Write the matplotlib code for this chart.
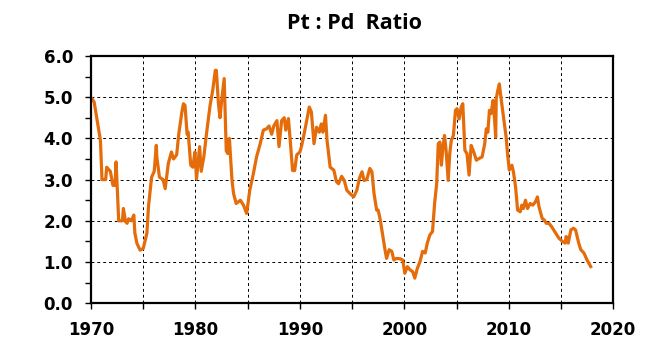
import numpy as np
import matplotlib
matplotlib.use('Agg')
import matplotlib.pyplot as plt
from matplotlib.ticker import MultipleLocator, FormatStrFormatter

# Pt:Pd price ratio
years = [1970.1, 1970.3, 1970.9, 1971.05, 1971.4, 1971.5, 1971.85, 1972.1, 1972.3, 1972.4,
         1972.65, 1973.0, 1973.1, 1973.3, 1973.45, 1973.6, 1973.85, 1974.1, 1974.2, 1974.4,
         1974.7, 1975.0, 1975.35, 1975.5, 1975.8, 1976.05, 1976.25, 1976.3, 1976.55, 1976.9,
         1977.1, 1977.4, 1977.7, 1977.9, 1978.2, 1978.4, 1978.7, 1978.85, 1979.0, 1979.2,
         1979.3, 1979.55, 1979.75, 1979.95, 1980.1, 1980.4, 1980.55, 1980.8, 1981.1, 1981.25,
         1981.4, 1981.65, 1981.9, 1982.0, 1982.2, 1982.35, 1982.5, 1982.75, 1982.95, 1983.1,
         1983.25, 1983.5, 1983.65, 1983.9, 1984.3, 1984.6, 1984.9, 1985.2, 1985.55, 1985.85,
         1986.2, 1986.5, 1986.8, 1987.05, 1987.3, 1987.5, 1987.8, 1988.0, 1988.25, 1988.5,
         1988.65, 1988.9, 1989.05, 1989.3, 1989.5, 1989.7, 1990.0, 1990.15, 1990.4, 1990.65,
         1990.9, 1991.1, 1991.35, 1991.6, 1991.85, 1992.05, 1992.2, 1992.45, 1992.6, 1992.9,
         1993.25, 1993.5, 1993.7, 1994.0, 1994.25, 1994.5, 1994.8, 1995.15, 1995.45, 1995.7,
         1995.95, 1996.15, 1996.4, 1996.7, 1996.9, 1997.1, 1997.35, 1997.5, 1997.7, 1997.95,
         1998.15, 1998.3, 1998.55, 1998.8, 1999.0, 1999.25, 1999.6, 1999.85, 2000.05, 2000.3,
         2000.55, 2000.8, 2001.0, 2001.25, 2001.5, 2001.75, 2002.0, 2002.2, 2002.45, 2002.7,
         2002.9, 2003.1, 2003.25, 2003.4, 2003.55, 2003.7, 2003.85, 2004.0, 2004.2, 2004.35,
         2004.5, 2004.7, 2004.9, 2005.05, 2005.25, 2005.45, 2005.6, 2005.8, 2006.0, 2006.2,
         2006.4, 2006.65, 2006.9, 2007.15, 2007.45, 2007.7, 2007.85, 2008.0, 2008.15, 2008.3,
         2008.5, 2008.65, 2008.75, 2008.8, 2008.95, 2009.1, 2009.25, 2009.5, 2009.75, 2009.9,
         2010.05, 2010.3, 2010.45, 2010.65, 2010.85, 2011.1, 2011.25, 2011.4, 2011.6, 2011.8,
         2012.05, 2012.3, 2012.55, 2012.75, 2012.9, 2013.2, 2013.4, 2013.6, 2013.85, 2014.1,
         2014.5, 2014.8, 2015.15, 2015.4, 2015.5, 2015.7, 2015.95, 2016.2, 2016.4, 2016.7,
         2016.9, 2017.2, 2017.5, 2017.85]
ratio = [4.96, 4.88, 3.95, 3.0, 3.0, 3.3, 3.2, 2.86, 2.86, 3.43,
         2.0, 2.0, 2.3, 1.98, 1.94, 2.05, 2.0, 2.14, 1.7, 1.45,
         1.29, 1.33, 1.7, 2.34, 3.06, 3.2, 3.83, 3.55, 3.06, 3.0,
         2.78, 3.39, 3.67, 3.5, 3.6, 4.1, 4.64, 4.84, 4.8, 4.1,
         4.15, 3.35, 3.3, 3.67, 3.02, 3.8, 3.2, 3.55, 4.2, 4.5,
         4.8, 5.16, 5.65, 5.65, 4.84, 4.5, 4.9, 5.45, 3.7, 3.63,
         4.0, 2.98, 2.66, 2.42, 2.5, 2.38, 2.18, 2.74, 3.15, 3.55,
         3.87, 4.2, 4.23, 4.3, 4.1, 4.3, 4.43, 3.8, 4.43, 4.5,
         4.2, 4.48, 4.03, 3.22, 3.22, 3.6, 3.67, 3.8, 4.1, 4.43,
         4.76, 4.64, 3.87, 4.27, 4.15, 4.35, 4.15, 4.56, 3.95, 3.3,
         3.23, 2.95, 2.9, 3.08, 2.98, 2.74, 2.66, 2.58, 2.74, 3.03,
         3.19, 2.98, 3.0, 3.27, 3.19, 2.66, 2.26, 2.26, 2.02, 1.62,
         1.3, 1.09, 1.3, 1.26, 1.05, 1.09, 1.08, 1.05, 0.73, 0.89,
         0.81, 0.77, 0.61, 0.85, 1.01, 1.26, 1.22, 1.46, 1.66, 1.74,
         2.42, 2.9, 3.87, 3.91, 3.35, 3.79, 4.07, 3.71, 2.98, 3.63,
         3.95, 4.07, 4.68, 4.72, 4.47, 4.76, 4.84, 3.71, 3.63, 3.11,
         3.83, 3.67, 3.47, 3.51, 3.55, 3.87, 4.23, 4.15, 4.68, 4.6,
         4.92, 4.43, 4.03, 4.96, 5.16, 5.32, 5.0, 4.52, 4.03, 3.59,
         3.23, 3.35, 3.19, 2.83, 2.26, 2.22, 2.38, 2.3, 2.5, 2.3,
         2.42, 2.38, 2.46, 2.58, 2.34, 2.06, 2.02, 1.94, 1.94, 1.86,
         1.7, 1.58, 1.5, 1.46, 1.62, 1.46, 1.78, 1.82, 1.78, 1.46,
         1.3, 1.22, 1.05, 0.89]

fig = plt.figure(figsize=(6.53, 3.56), dpi=100)
ax = fig.add_axes([0.1394, 0.148, 0.7996, 0.695])

ax.plot(years, ratio, color='#E46C0A', linewidth=2.3, solid_joinstyle='round')

ax.set_xlim(1970, 2020)
ax.set_ylim(0, 6)
ax.xaxis.set_major_locator(MultipleLocator(10))
ax.xaxis.set_minor_locator(MultipleLocator(5))
ax.yaxis.set_major_locator(MultipleLocator(1))
ax.yaxis.set_minor_locator(MultipleLocator(0.5))
ax.yaxis.set_major_formatter(FormatStrFormatter('%.1f'))

ax.grid(True, which='major', axis='y', color='black', linestyle=(0, (3, 3)), linewidth=0.7)
ax.grid(True, which='both', axis='x', color='black', linestyle=(0, (3, 3)), linewidth=0.7)
ax.set_axisbelow(True)

ax.tick_params(which='both', direction='out', length=4, width=1, color='black')
ax.tick_params(axis='both', labelsize=12, pad=9)
for lab in ax.get_xticklabels() + ax.get_yticklabels():
    lab.set_fontweight('bold')

for s in ax.spines.values():
    s.set_linewidth(1.6)
    s.set_color('black')

fig.text(0.543, 0.935, 'Pt : Pd  Ratio', ha='center', va='center',
         fontsize=15.5, fontweight='bold', family='Open Sans')

fig.savefig('out.png', dpi=100)
